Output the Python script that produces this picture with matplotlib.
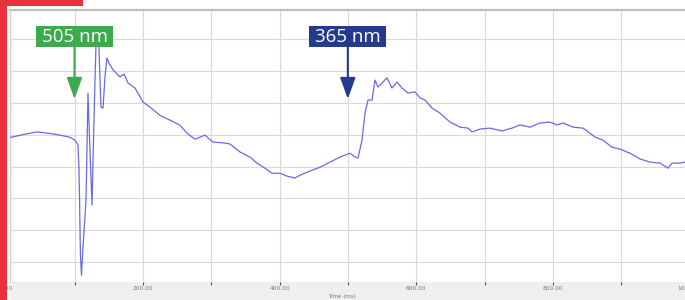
import matplotlib
matplotlib.use("Agg")
import matplotlib.pyplot as plt
from matplotlib.patches import Rectangle, FancyArrowPatch
import numpy as np

# ---------------- data ----------------
time_ms = [7.0, 27.5, 45.1, 64.1, 78.7, 93.4, 100.7, 105.1, 106.5, 107.3, 108.0, 108.7,
           110.2, 112.4, 113.9, 116.8, 117.5, 119.7, 122.6, 125.6, 128.5, 131.4, 132.9,
           135.8, 138.7, 141.7, 144.6, 147.5, 150.4, 156.3, 166.5, 172.4, 178.3, 188.5,
           200.2, 210.5, 225.1, 239.7, 254.4, 264.6, 276.3, 290.9, 302.6, 320.2, 327.5,
           342.1, 356.8, 367.0, 378.7, 389.0, 400.7, 411.0, 422.6, 430.0, 444.6, 459.3,
           473.9, 488.5, 503.2, 510.5, 514.9, 520.7, 525.1, 529.5, 535.4, 539.7, 544.1,
           550.0, 557.3, 564.6, 572.0, 579.3, 588.1, 598.3, 605.6, 613.0, 623.2, 634.9,
           649.5, 664.1, 675.8, 681.7, 693.4, 708.0, 725.6, 740.2, 751.9, 766.6, 781.2,
           795.8, 806.1, 814.9, 829.5, 844.2, 861.7, 873.4, 886.6, 898.3, 912.9, 927.6,
           942.2, 956.8, 968.5, 974.4, 986.1, 993.4]
signal = [3.92, 4.02, 4.09, 4.04, 3.99, 3.92, 3.83, 3.68, 2.95, 2.10, 1.06, 0.21,
          -0.42, 0.46, 0.94, 1.94, 2.67, 5.31, 3.52, 1.79, 4.46, 6.83, 6.98,
          6.73, 4.87, 4.84, 5.82, 6.42, 6.26, 6.04, 5.82, 5.91, 5.63, 5.47,
          5.03, 4.87, 4.61, 4.46, 4.30, 4.05, 3.86, 3.99, 3.77, 3.74, 3.71,
          3.46, 3.30, 3.11, 2.95, 2.79, 2.79, 2.70, 2.64, 2.73, 2.86, 2.98,
          3.14, 3.30, 3.42, 3.30, 3.27, 3.83, 4.68, 5.09, 5.09, 5.72, 5.50,
          5.63, 5.79, 5.47, 5.66, 5.47, 5.31, 5.35, 5.16, 5.09, 4.84, 4.68,
          4.40, 4.24, 4.21, 4.09, 4.18, 4.21, 4.12, 4.21, 4.31, 4.24, 4.37,
          4.40, 4.31, 4.37, 4.24, 4.21, 3.93, 3.83, 3.61, 3.55, 3.42, 3.24,
          3.14, 3.11, 2.95, 3.11, 3.11, 3.14]

event_times = [100, 500]
event_labels = ["505 nm", "365 nm"]
event_colors = ["#3dab4d", "#233b8c"]

x_tick_values = [0, 200, 400, 600, 800, 1000]
x_tick_labels = ["0.00", "200.00", "400.00", "600.00", "800.00", "1000.00"]

# ---------------- figure ----------------
W, H = 685, 300
fig = plt.figure(figsize=(W / 100, H / 100), dpi=100)
fig.patch.set_facecolor("white")

ax_left, ax_right, ax_top, ax_bottom = 10, 685, 9.5, 282
ax = fig.add_axes([ax_left / W, 1 - ax_bottom / H, (ax_right - ax_left) / W,
                   (ax_bottom - ax_top) / H])
ax.set_xlim(5.6, 993.4)
ax.set_ylim(-0.63, 7.94)

ax.plot(time_ms, signal, color="#5a5ae0", lw=0.9, alpha=0.9, zorder=3)

ax.set_xticks(range(100, 1000, 100), minor=False)
ax.set_xticklabels([])
ax.set_yticks(range(0, 8))
ax.set_yticklabels([])
ax.grid(True, color="#d9d9d9", lw=0.8, zorder=0)
ax.tick_params(axis="x", direction="out", length=2, width=0.8, color="#555555")
ax.tick_params(axis="y", length=0)

for s in ["right", "bottom"]:
    ax.spines[s].set_visible(False)
ax.spines["top"].set_color("#bdbdbd")
ax.spines["top"].set_linewidth(1.6)
ax.spines["left"].set_color("#cfcfcf")
ax.spines["left"].set_linewidth(1.0)

# gray tick strip
fig.add_artist(Rectangle((ax_left / W, 0), 1 - ax_left / W, (H - ax_bottom) / H,
                         transform=fig.transFigure, facecolor="#efefef",
                         edgecolor="none", zorder=-1))

import matplotlib.transforms as mtransforms
trans = mtransforms.blended_transform_factory(ax.transData, fig.transFigure)
for v, lab in zip(x_tick_values, x_tick_labels):
    ax.text(v, 1 - 289 / H, lab, transform=trans, ha="center", va="center",
            fontsize=4.2, color="#777777", clip_on=False)
fig.text(342 / W, 1 - 296.5 / H, "Time (ms)", ha="center", va="center",
         fontsize=4.0, color="#777777")

# annotations
fig.canvas.draw()
for t, lab, col in zip(event_times, event_labels, event_colors):
    px, _ = ax.transData.transform((t, 0))
    bw, btop, bbot = 77, 26, 47
    fig.add_artist(Rectangle(((px - bw / 2) / W, 1 - bbot / H), bw / W, (bbot - btop) / H,
                             transform=fig.transFigure, facecolor=col,
                             edgecolor="none", zorder=5))
    fig.text(px / W, 1 - 37 / H, lab, ha="center", va="center", color="white",
             fontsize=13.5, family="Open Sans", zorder=6)
    arr = FancyArrowPatch((px / W, 1 - 46 / H), (px / W, 1 - 99 / H),
                          transform=fig.transFigure,
                          arrowstyle="-|>,head_length=1.3,head_width=0.47",
                          mutation_scale=10, lw=1.5, color=col,
                          shrinkA=0, shrinkB=0, zorder=5)
    fig.add_artist(arr)

# red frame
red = "#e8303f"
fig.add_artist(Rectangle((0, 0), 7.3 / W, 1, transform=fig.transFigure,
                         facecolor=red, edgecolor="none", zorder=10))
fig.add_artist(Rectangle((0, 1 - 6 / H), 83 / W, 6 / H, transform=fig.transFigure,
                         facecolor=red, edgecolor="none", zorder=10))

fig.savefig("out.png", dpi=100)
